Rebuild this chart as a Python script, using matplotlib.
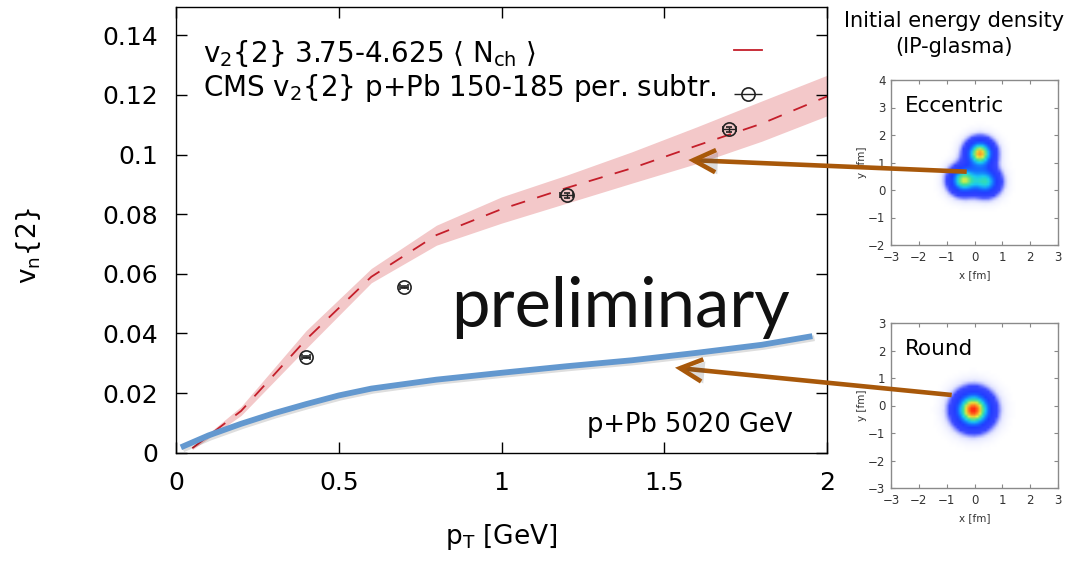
import numpy as np
import matplotlib
matplotlib.use("Agg")
import matplotlib.pyplot as plt
from matplotlib.colors import LinearSegmentedColormap
from matplotlib.patches import FancyArrowPatch
from matplotlib.lines import Line2D
import matplotlib.patheffects as pe

plt.rcParams['font.family'] = ['DejaVu Sans']
plt.rcParams['mathtext.default'] = 'regular'

# ---------------- data ----------------
pt_theory = [0.05, 0.2, 0.4, 0.6, 0.8, 1.0, 1.2, 1.4, 1.6, 1.8, 2.0]
v2_theory = [0.0015, 0.014, 0.038, 0.059, 0.073, 0.0817, 0.0888, 0.0954, 0.103, 0.1104, 0.1195]
v2_theory_lo = [0.001, 0.0125, 0.035, 0.057, 0.0696, 0.077, 0.0837, 0.0904, 0.097, 0.1045, 0.113]
v2_theory_hi = [0.002, 0.0155, 0.041, 0.0618, 0.0763, 0.0858, 0.0931, 0.1009, 0.1093, 0.118, 0.1266]

pt_cms = [0.4, 0.7, 1.2, 1.7]
v2_cms = [0.032, 0.0555, 0.0864, 0.1085]
v2_cms_err = [0.0004, 0.0004, 0.0008, 0.0008]
pt_cms_err = [0.012, 0.012, 0.02, 0.02]

pt_round = [0.015, 0.1, 0.2, 0.3, 0.4, 0.5, 0.6, 0.8, 1.0, 1.2, 1.4, 1.6, 1.8, 1.955]
v2_round = [0.0018, 0.0058, 0.0097, 0.0132, 0.0163, 0.0192, 0.0215, 0.0245, 0.0268, 0.029,
            0.031, 0.0335, 0.0362, 0.0391]

xticks = [0, 0.5, 1, 1.5, 2]
xticklabels = ['0', '0.5', '1', '1.5', '2']
yticks = [0, 0.02, 0.04, 0.06, 0.08, 0.10, 0.12, 0.14]
yticklabels = ['0', '0.02', '0.04', '0.06', '0.08', '0.1', '0.12', '0.14']

label_theory = r'v$_2${2} 3.75-4.625 $\langle$ N$_{ch}$ $\rangle$'
label_cms = r'CMS v$_2${2} p+Pb 150-185 per. subtr.'

# IP-glasma energy density hot spots (x [fm], y [fm], width [fm], relative amplitude)
ecc_x = [0.2, -0.4, 0.42]
ecc_y = [1.33, 0.36, 0.3]
ecc_w = [0.33, 0.33, 0.33]
ecc_a = [0.9, 0.78, 0.64]
round_x = [-0.04]
round_y = [-0.16]
round_w = [0.44]
round_a = [1.0]

panel_ticks = [-3, -2, -1, 0, 1, 2, 3]
ecc_yticks = [-2, -1, 0, 1, 2, 3, 4]

# ---------------- figure ----------------
W, H = 1069, 561
fig = plt.figure(figsize=(W / 100, H / 100), dpi=100)

def fx(px):
    return px / W

def fy(py):
    return 1 - py / H

AX_L, AX_B, AX_W, AX_H = 176, 452.7, 651, 445.7
ax = fig.add_axes([fx(AX_L), fy(AX_B), AX_W / W, AX_H / H])

def ax_x(px):
    return (px - AX_L) / AX_W

def ax_y(py):
    return (AX_B - py) / AX_H

ax.fill_between(pt_theory, v2_theory_lo, v2_theory_hi, color='#f3c8c9', lw=0, zorder=1)
ax.plot(pt_theory, v2_theory, color='#c41e2a', lw=1.3, dashes=(8, 7), zorder=2)
ax.errorbar(pt_cms, v2_cms, xerr=pt_cms_err, yerr=v2_cms_err, fmt='o', ms=9.5,
            mfc='none', mec='#222222', mew=1.2, ecolor='#222222', elinewidth=1.0,
            capsize=2.0, zorder=4)
ax.plot(pt_round, v2_round, color='#6398cf', lw=4.2, solid_capstyle='butt',
        solid_joinstyle='round', zorder=3,
        path_effects=[pe.SimpleLineShadow(offset=(1.5, -1.5), shadow_color='k', alpha=0.13),
                      pe.Normal()])

ax.set_xlim(0, 2)
ax.set_ylim(0, 0.1495)
ax.set_xticks(xticks)
ax.set_xticklabels(xticklabels)
ax.set_yticks(yticks)
ax.set_yticklabels(yticklabels)
ax.tick_params(direction='in', length=8, width=1, top=True, right=True, labelsize=18)
ax.tick_params(axis='x', pad=13)
ax.tick_params(axis='y', pad=13)
for s in ax.spines.values():
    s.set_linewidth(1.0)

ax.set_xlabel(r'p$_T$ [GeV]', fontsize=19)
ax.xaxis.set_label_coords(0.5, -0.155)
ax.set_ylabel(r'v$_n${2}', fontsize=19)
ax.yaxis.set_label_coords(-0.205, 0.466)

# legend: keys on the right (gnuplot style), labels left aligned
LEG_FS = 20
key_line = Line2D([], [], color='#c41e2a', lw=1.3)
key_eb = ax.errorbar([], [], xerr=[], fmt='o', ms=9.5, mfc='none', mec='#222222', mew=1.2,
                     ecolor='#222222', elinewidth=1.0, capsize=3.0)
leg = ax.legend([key_line, key_eb], ['', ''], loc='upper left',
                bbox_to_anchor=(ax_x(734), ax_y(38)), frameon=False, markerfirst=True,
                fontsize=LEG_FS, handlelength=1.0, handletextpad=0.0, labelspacing=0.55,
                borderaxespad=0, borderpad=0)
ax.text(ax_x(203), ax_y(61.7), label_theory, transform=ax.transAxes, ha='left',
        va='baseline', fontsize=LEG_FS)
ax.text(ax_x(203), ax_y(95.7), label_cms, transform=ax.transAxes, ha='left',
        va='baseline', fontsize=LEG_FS)

ax.text(ax_x(621), ax_y(327), 'preliminary', transform=ax.transAxes, ha='center',
        va='baseline', fontsize=49.5, family=['Lato', 'DejaVu Sans'], color='#111111')
ax.text(ax_x(792), ax_y(431.7), 'p+Pb 5020 GeV', transform=ax.transAxes, ha='right',
        va='baseline', fontsize=18.5)

# ---------------- side panels ----------------
cmap = LinearSegmentedColormap.from_list('ipg', [
    (0.0, '#ffffff'), (0.05, '#e4e6ff'), (0.14, '#3a48ff'), (0.35, '#1f3cff'),
    (0.5, '#1478ff'), (0.62, '#1ad0f0'), (0.72, '#40e098'), (0.82, '#e4f040'),
    (0.91, '#ff9424'), (1.0, '#ff2010')])

grid = np.arange(-3.0, 4.05, 0.1)
GX, GY = np.meshgrid(grid, grid)

def density(xs, ys, ws, amps):
    d = np.zeros_like(GX)
    for x0, y0, w, a in zip(xs, ys, ws, amps):
        d += a * np.exp(-((GX - x0) ** 2 + (GY - y0) ** 2) / (2 * w ** 2))
    return d

def panel(rect, xs, ys, ws, amps, ylim, yticks, name):
    a = fig.add_axes(rect)
    d = density(xs, ys, ws, amps)
    a.imshow(d, extent=[grid[0] - 0.05, grid[-1] + 0.05, grid[0] - 0.05, grid[-1] + 0.05],
             origin='lower', cmap=cmap, vmin=0, vmax=1, interpolation='bilinear', aspect='auto')
    a.set_xlim(-3, 3)
    a.set_ylim(*ylim)
    a.set_xticks(panel_ticks)
    a.set_yticks(yticks)
    a.tick_params(direction='in', length=3, width=0.8, top=True, right=True, labelsize=8.5,
                  colors='#888888', labelcolor='#333333', pad=4)
    for s in a.spines.values():
        s.set_color('#8a8a8a')
        s.set_linewidth(1.0)
    a.set_xlabel('x [fm]', fontsize=7.5, color='#333333', labelpad=5)
    a.set_ylabel('y [fm]', fontsize=7.5, color='#333333', labelpad=1)
    a.text(-2.5, ylim[1] - 1.16, name, fontsize=15.5, ha='left', va='baseline')
    return a

panel([fx(891), fy(245), 167 / W, 165 / H], ecc_x, ecc_y, ecc_w, ecc_a, (-2, 4), ecc_yticks,
      'Eccentric')
panel([fx(891), fy(488), 167 / W, 165 / H], round_x, round_y, round_w, round_a, (-3, 3),
      panel_ticks, 'Round')

fig.text(fx(954), fy(21), 'Initial energy density', ha='center', va='center', fontsize=15)
fig.text(fx(954), fy(47), '(IP-glasma)', ha='center', va='center', fontsize=15)

# ---------------- arrows ----------------
brown = '#a8580a'
arrows = [((966.7, 171.7), (688.3, 160.0)), ((951.7, 395.0), (675.0, 367.7))]
for (tx, ty), (hx, hy) in arrows:
    arr = FancyArrowPatch((fx(tx), fy(ty)), (fx(hx), fy(hy)), transform=fig.transFigure,
                          arrowstyle='->,head_length=1.0,head_width=0.5', mutation_scale=16,
                          lw=3.3, color=brown, shrinkA=0, shrinkB=0, zorder=10,
                          capstyle='butt', joinstyle='miter',
                          path_effects=[pe.SimplePatchShadow(offset=(1.5, -1.5), alpha=0.2),
                                        pe.Normal()])
    fig.add_artist(arr)

fig.savefig('out.png', dpi=100)
